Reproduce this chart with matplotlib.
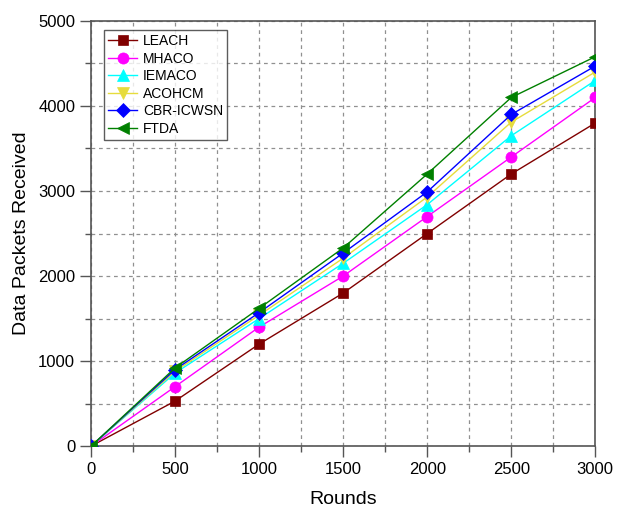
import matplotlib
matplotlib.use("Agg")
import matplotlib.pyplot as plt
from matplotlib.ticker import MultipleLocator

plt.rcParams['font.family'] = ['Liberation Sans', 'DejaVu Sans']

rounds = [0, 500, 1000, 1500, 2000, 2500, 3000]
leach = [0, 530, 1200, 1800, 2500, 3200, 3800]
mhaco = [0, 700, 1400, 2000, 2700, 3400, 4100]
iemaco = [0, 860, 1500, 2150, 2840, 3650, 4300]
acohcm = [0, 880, 1540, 2210, 2930, 3810, 4400]
cbr = [0, 900, 1570, 2270, 2990, 3900, 4470]
ftda = [0, 920, 1620, 2330, 3200, 4100, 4580]

series = [
    ("LEACH", leach, "#800000", "s"),
    ("MHACO", mhaco, "#FF00FF", "o"),
    ("IEMACO", iemaco, "#00FFFF", "^"),
    ("ACOHCM", acohcm, "#E6DC3C", "v"),
    ("CBR-ICWSN", cbr, "#0000FF", "D"),
    ("FTDA", ftda, "#008000", "<"),
]

fig = plt.figure(figsize=(6.24, 5.11), dpi=100)
ax = fig.add_axes([0.146, 0.127, 0.808, 0.832])

for name, vals, col, mk in series:
    ms = 7 if mk in ("s", "D") else 8
    ax.plot(rounds, vals, color=col, marker=mk, markersize=ms, linewidth=1.0,
            label=name, markeredgewidth=0.5, markeredgecolor=col, zorder=3)

ax.set_xlim(0, 3000)
ax.set_ylim(0, 5000)
ax.xaxis.set_major_locator(MultipleLocator(500))
ax.xaxis.set_minor_locator(MultipleLocator(250))
ax.yaxis.set_major_locator(MultipleLocator(1000))
ax.yaxis.set_minor_locator(MultipleLocator(500))
ax.grid(True, which='both', linestyle=(0, (3, 3)), color='#909090', linewidth=0.9)
ax.tick_params(which='major', direction='out', length=8, width=1, colors='#555555',
               labelcolor='black', labelsize=12)
ax.tick_params(which='minor', direction='out', length=4, width=1, colors='#555555')
for s in ax.spines.values():
    s.set_color('#555555')
    s.set_linewidth(1.2)

ax.set_xlabel("Rounds", fontsize=14, labelpad=10)
ax.set_ylabel("Data Packets Received", fontsize=14, labelpad=6)

leg = ax.legend(loc='upper left', bbox_to_anchor=(0.02, 0.985), fontsize=10,
                frameon=True, fancybox=False, edgecolor='#333333',
                borderpad=0.3, labelspacing=0.25, handlelength=2.1,
                handletextpad=0.4, borderaxespad=0.2)
leg.get_frame().set_linewidth(1.0)

fig.savefig("out.png", dpi=100)
